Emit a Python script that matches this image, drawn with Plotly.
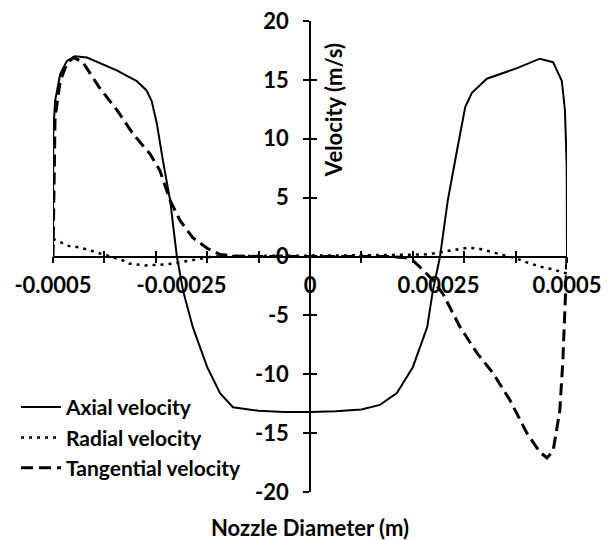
import plotly.graph_objects as go

# ---- data ----
axial_x = [-0.0005, -0.0004995, -0.000496, -0.000486, -0.000473, -0.000457, -0.000434,
           -0.000376, -0.000337, -0.000318, -0.000308, -0.000298, -0.000286, -0.000272,
           -0.000259, -0.000247, -0.000228, -0.0002, -0.000175, -0.00015, -0.0001,
           -0.00005, 0, 0.00005, 0.0001, 0.000136, 0.000169, 0.0002, 0.000228, 0.000239,
           0.000253, 0.000268, 0.000286, 0.000302, 0.000315, 0.000344, 0.000403, 0.000447,
           0.000473, 0.00049, 0.000496, 0.0004995, 0.0005]
axial_y = [0, 10.4, 13.2, 15.5, 16.6, 17.0, 16.9,
           15.8, 14.9, 14.1, 13.2, 11.3, 8.1, 4.75,
           0, -2.9, -6.0, -9.4, -11.6, -12.8, -13.1,
           -13.2, -13.2, -13.15, -13.0, -12.6, -11.6, -9.4, -6.0, -2.9,
           0, 4.75, 9.0, 12.7, 13.9, 15.1, 16.0, 16.8,
           16.5, 14.9, 12.4, 7.6, 0]

radial_x = [-0.0005, -0.000486, -0.00047, -0.000447, -0.000434, -0.000409, -0.000393,
            -0.000366, -0.000352, -0.000321, -0.000292, -0.000267, -0.000228, -0.000189,
            -0.0001, 0, 0.0001, 0.00018, 0.00022, 0.000239, 0.000278, 0.000307, 0.000327,
            0.00035, 0.000374, 0.0004, 0.000422, 0.000447, 0.000473, 0.000492, 0.0005]
radial_y = [1.5, 1.2, 0.9, 0.77, 0.6, 0.25, 0.0,
            -0.3, -0.6, -0.76, -0.7, -0.6, -0.3, 0.0,
            0.05, 0.05, 0.1, 0.15, 0.17, 0.25, 0.5, 0.75, 0.68,
            0.4, 0.17, -0.15, -0.5, -0.85, -1.1, -1.3, -1.45]

tang_x = [-0.0005, -0.000498, -0.000496, -0.000486, -0.000473, -0.00046, -0.000442,
          -0.000409, -0.000375, -0.000344, -0.000311, -0.000292, -0.000272, -0.000253,
          -0.000228, -0.0002, -0.000175, -0.00015, -0.0001, 0, 0.0001, 0.00015, 0.000189,
          0.0002, 0.000214, 0.000239, 0.000259, 0.000292, 0.000325, 0.000356, 0.000389,
          0.000422, 0.000447, 0.000461, 0.000473, 0.000486, 0.000492, 0.000496, 0.000499,
          0.0005]
tang_y = [0, 8.0, 11.8, 14.9, 16.4, 16.9, 16.5,
          14.3, 12.4, 10.4, 8.7, 7.3, 4.75, 3.06,
          1.6, 0.7, 0.17, 0.05, 0.0, 0.0, 0.0, 0.0, -0.1,
          -0.34, -0.9, -2.0, -3.2, -6.0, -8.2, -9.9, -12.2,
          -15.0, -16.6, -17.1, -16.5, -13.1, -8.8, -4.6, -1.5,
          0]

x_tickvals = [-0.0005, -0.00025, 0, 0.00025, 0.0005]
x_ticktext = ["-0.0005", "-0.00025", "0", "0.00025", "0.0005"]
y_tickvals = [-20, -15, -10, -5, 0, 5, 10, 15, 20]
y_ticktext = ["-20", "-15", "-10", "-5", "0", "5", "10", "15", "20"]

FONT = dict(family="Lato", size=22, color="black", weight="bold")
LEGFONT = dict(family="Lato", size=21, color="black", weight="bold")

fig = go.Figure()
fig.add_trace(go.Scatter(x=axial_x, y=axial_y, mode="lines", name="Axial velocity",
                         line=dict(color="black", width=2)))
fig.add_trace(go.Scatter(x=radial_x, y=radial_y, mode="lines", name="Radial velocity",
                         line=dict(color="black", width=2.5, dash="3px,5px")))
fig.add_trace(go.Scatter(x=tang_x, y=tang_y, mode="lines", name="Tangential velocity",
                         line=dict(color="black", width=3, dash="12px,6px")))
# dummy trace to activate the overlay axes (inner halves of the crossing ticks)
fig.add_trace(go.Scatter(x=[None], y=[None], xaxis="x2", yaxis="y2",
                         showlegend=False, hoverinfo="skip"))

fig.update_layout(
    width=608, height=540,
    margin=dict(l=53, r=41, t=21, b=48, autoexpand=False),
    paper_bgcolor="white", plot_bgcolor="white",
    font=FONT,
    showlegend=True,
    legend=dict(x=-0.072, y=0.223, xanchor="left", yanchor="top", itemwidth=40,
                bgcolor="rgba(0,0,0,0)", font=LEGFONT, tracegroupgap=0),
    xaxis=dict(range=[-0.0005, 0.0005], anchor="free", position=0.5, automargin=False,
               showline=True, linecolor="black", linewidth=1.5,
               showgrid=False, zeroline=False,
               tickmode="array", tickvals=x_tickvals, ticktext=x_ticktext,
               ticks="", tickfont=FONT, ticklabelstandoff=9,
               minor=dict(tickmode="linear", tick0=0, dtick=0.0001, ticks="outside",
                          ticklen=6, tickwidth=1.5, tickcolor="black", showgrid=False)),
    xaxis2=dict(range=[-0.0005, 0.0005], overlaying="x", anchor="free", position=0.5,
                automargin=False,
                showline=False, showgrid=False, zeroline=False,
                tickmode="linear", tick0=0, dtick=0.0001, ticks="inside",
                ticklen=6, tickwidth=1.5, tickcolor="black", showticklabels=False),
    yaxis=dict(range=[-20, 20], anchor="free", position=0.5, automargin=False,
               showline=True, linecolor="black", linewidth=1.5,
               showgrid=False, zeroline=False,
               tickmode="array", tickvals=y_tickvals, ticktext=y_ticktext,
               ticks="outside", ticklen=6, tickwidth=1.5, tickcolor="black",
               tickfont=FONT, ticklabelstandoff=10),
    yaxis2=dict(range=[-20, 20], overlaying="y", anchor="free", position=0.5,
                automargin=False,
                showline=False, showgrid=False, zeroline=False,
                tickmode="array", tickvals=y_tickvals,
                ticks="inside", ticklen=6, tickwidth=1.5, tickcolor="black",
                showticklabels=False),
    annotations=[
        dict(text="Velocity (m/s)", x=0.545, y=0.811, xref="paper", yref="paper",
             xanchor="center", yanchor="middle",
             textangle=-90, showarrow=False, font=FONT),
        dict(text="Nozzle Diameter (m)", x=0.5, y=-0.076, xref="paper", yref="paper",
             xanchor="center", yanchor="middle",
             showarrow=False, font=FONT),
    ],
)

fig.write_html("out.html", config={"displayModeBar": False},
               post_script="document.body.style.margin='0';document.body.style.overflow='hidden';")
